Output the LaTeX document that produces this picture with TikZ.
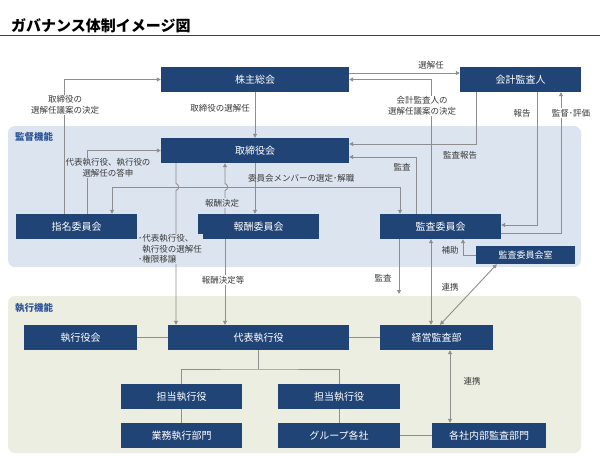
\documentclass[tikz,border=0pt]{standalone}
\usepackage{fontspec}
\setmainfont{Noto Sans CJK JP}
\usetikzlibrary{arrows.meta}
\definecolor{navy}{HTML}{214476}
\definecolor{bgblue}{HTML}{DCE4F0}
\definecolor{bggreen}{HTML}{ECEEE1}
\definecolor{lgray}{HTML}{8E8E8E}
\definecolor{tgray}{HTML}{3A3A3A}
\definecolor{hblue}{HTML}{2E5597}
\tikzset{
  box/.style={fill=navy, text=white, inner sep=0pt, font=\fontsize{10}{12}\selectfont, anchor=center},
  lbl/.style={text=tgray, inner sep=1pt, font=\fontsize{8.5}{10.5}\selectfont, align=center},
  conn/.style={draw=lgray, line width=0.9pt},
  arr/.style={conn, -{Triangle[length=4pt,width=4pt]}},
  darr/.style={conn, {Triangle[length=4pt,width=4pt]}-{Triangle[length=4pt,width=4pt]}},
  region/.style={rounded corners=7pt},
  rlabel/.style={text=hblue, font=\fontsize{9.5}{11}\selectfont\bfseries, anchor=west, inner sep=0pt}
}
\begin{document}
\begin{tikzpicture}[x=1pt,y=-1pt]
\useasboundingbox (0,0) rectangle (600,466);
\fill[white] (0,0) rectangle (600,466);
% title
\node[anchor=west, inner sep=0pt, font=\fontsize{15}{17}\selectfont\bfseries] (title) at (11,26) {ガバナンス体制イメージ図};
\draw[draw=black!75, line width=1pt] (0,35) -- (600,35);
% regions
\fill[bgblue, region] (8,126) rectangle (581,267);
\fill[bggreen, region] (8,296) rectangle (581,453);
\node[rlabel] (rl1) at (15,137) {監督機能};
\node[rlabel] (rl2) at (15,308) {執行機能};
% boxes
\node[box, minimum width=188pt, minimum height=25pt] (kabu) at (255,79.5) {株主総会};
\node[box, minimum width=121pt, minimum height=25pt] (kaikei) at (520.5,79.5) {会計監査人};
\node[box, minimum width=188pt, minimum height=25pt] (tori) at (255,150.5) {取締役会};
\node[box, minimum width=121pt, minimum height=25pt] (shimei) at (76.5,226.5) {指名委員会};
\node[box, minimum width=121pt, minimum height=25pt] (hoshu) at (258.5,226.5) {報酬委員会};
\node[box, minimum width=121pt, minimum height=25pt] (kansa) at (440.5,226.5) {監査委員会};
\node[box, minimum width=99pt, minimum height=18pt, font=\fontsize{9}{11}\selectfont] (shitsu) at (525.5,255) {監査委員会室};
\node[box, minimum width=113pt, minimum height=25pt] (shikkou) at (80.5,337.5) {執行役会};
\node[box, minimum width=181pt, minimum height=25pt] (daihyo) at (258.5,337.5) {代表執行役};
\node[box, minimum width=113pt, minimum height=25pt] (keiei) at (436.5,337.5) {経営監査部};
\node[box, minimum width=121pt, minimum height=25pt] (tanto1) at (181.5,396.5) {担当執行役};
\node[box, minimum width=122pt, minimum height=25pt] (tanto2) at (339,396.5) {担当執行役};
\node[box, minimum width=121pt, minimum height=25pt] (gyomu) at (181.5,435.5) {業務執行部門};
\node[box, minimum width=122pt, minimum height=25pt] (group) at (339,435.5) {グループ各社};
\node[box, minimum width=114pt, minimum height=25pt] (kakusha) at (489,435.5) {各社内部監査部門};
% coordinates
\coordinate (mj) at (255,187);
\coordinate (kansaend) at (399,294);
\coordinate (tj) at (258.5,369);
% connectors
\draw[arr] ([xshift=-12.5pt]shimei.north) |- (kabu.west);
\draw[arr] ([xshift=10.5pt]shimei.north) |- (tori.west);
\draw[arr] (kabu.south) -- (tori.north);
\draw[arr] ([yshift=6.5pt]kabu.east) -- ([yshift=6.5pt]kaikei.west);
\draw[arr] ([xshift=-9.5pt]kansa.north) |- (kabu.east);
\draw[arr] ([xshift=-44.5pt]kaikei.south) |- ([yshift=6.5pt]tori.east);
\draw[arr] ([xshift=-24.5pt]kansa.north) |- ([yshift=-6.5pt]tori.east);
\draw[arr] ([xshift=16.5pt]kaikei.south) |- ([yshift=1.5pt]kansa.east);
\draw[arr] ([yshift=-6.5pt]kansa.east) -| ([xshift=40.5pt]kaikei.south);
\draw[arr] (tori.south) -- (tori.south |- hoshu.north);
\draw[arr] (mj) -| ([xshift=35.5pt]shimei.north);
\draw[arr] (mj) -| ([xshift=-40.5pt]kansa.north);
\draw[arr] ([xshift=-79pt]tori.south) -- (176,183.5) .. controls (179.5,184.5) and (179.5,189.5) .. (176,190.5) -- ([xshift=-82.5pt]daihyo.north);
\draw[arr] ([xshift=-33.5pt]hoshu.north) -- (225,190.5) .. controls (228.5,189.5) and (228.5,184.5) .. (225,183.5) -- ([xshift=-30pt]tori.south);
\draw[arr] ([xshift=-33.5pt]hoshu.south) -- ([xshift=-33.5pt]daihyo.north);
\draw[arr] ([xshift=-41.5pt]kansa.south) -- (kansaend);
\draw[darr] ([xshift=-9.5pt]kansa.south) -- ([xshift=-5.5pt]keiei.north);
\draw[darr] ([xshift=21pt]shitsu.south west) -- ([xshift=3.5pt]keiei.north);
\draw[arr] (shitsu.west) -| ([xshift=22.5pt]kansa.south);
\draw[conn] (shikkou.east) -- (daihyo.west);
\draw[conn] (daihyo.east) -- (keiei.west);
\draw[conn] (daihyo.south) -- (tj);
\draw[conn] (tanto1.north) |- (tj) -| (tanto2.north);
\draw[conn] (tanto1.south) -- (gyomu.north);
\draw[conn] (tanto2.south) -- (group.north);
\draw[conn] (group.east) -- (kakusha.west);
\draw[darr] ([xshift=13.5pt]keiei.south) -- ([xshift=-39pt]kakusha.north);
% labels
\node[lbl, fill=white] (l1) at (65,105) {取締役の\\選解任議案の決定};
\node[lbl] (l2) at (220,108) {取締役の選解任};
\node[lbl] (l3) at (431,65) {選解任};
\node[lbl, fill=white] (l4) at (422,106) {会計監査人の\\選解任議案の決定};
\node[lbl] (l5) at (460,155) {監査報告};
\node[lbl] (l6) at (402,167) {監査};
\node[lbl] (l7) at (522,113) {報告};
\node[lbl, fill=white] (l8) at (571,113) {監督･評価};
\node[lbl, fill=bgblue] (l9) at (108,168) {代表執行役、執行役の\\選解任の答申};
\node[lbl, anchor=west] (l10) at (247,178) {委員会メンバーの選定･解職};
\node[lbl, fill=bgblue] (l11) at (222,203) {報酬決定};
\node[lbl, fill=bgblue, align=left, anchor=west] (l12) at (137,249) {･代表執行役、\\\hspace{0.5em}執行役の選解任\\･権限移譲};
\node[lbl, fill=white] (l13) at (223,280) {報酬決定等};
\node[lbl] (l14) at (383,278) {監査};
\node[lbl] (l15) at (450,287) {連携};
\node[lbl] (l16) at (450,250) {補助};
\node[lbl] (l17) at (472,381) {連携};
\end{tikzpicture}
\end{document}
